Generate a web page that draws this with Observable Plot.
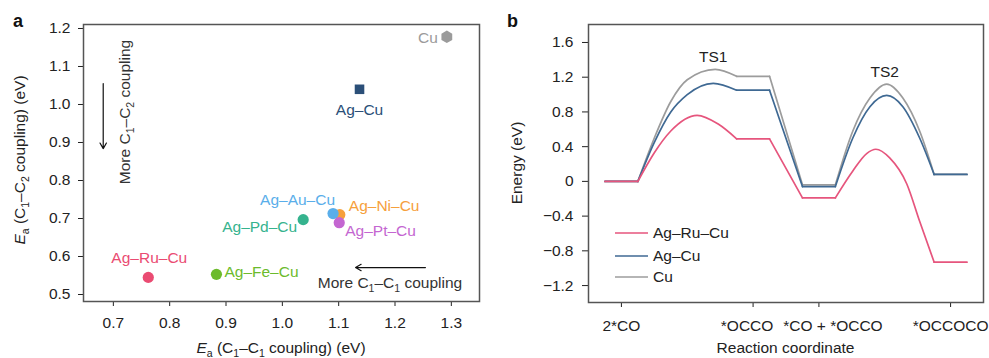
<!DOCTYPE html>
<html><head><meta charset="utf-8">
<script src="https://cdn.jsdelivr.net/npm/d3@7"></script>
<script src="https://cdn.jsdelivr.net/npm/@observablehq/plot@0.6"></script>
<style>
body{margin:0;background:#fff;}
#wrap{position:relative;width:989px;height:358px;font-family:"Liberation Sans",Arial,sans-serif;}
#a,#b{position:absolute;top:0;}
#a{left:0;} #b{left:500px;}
</style></head><body>
<div id="wrap"><div id="a"></div><div id="b"></div></div>
<script>
// ---------- Panel a data ----------
const alloys  = ["Cu", "Ag–Cu", "Ag–Ru–Cu", "Ag–Fe–Cu", "Ag–Pd–Cu", "Ag–Ni–Cu", "Ag–Au–Cu", "Ag–Pt–Cu"];
const eaC1C1  = [1.292, 1.137, 0.762, 0.883, 1.037, 1.102, 1.090, 1.101];
const eaC1C2  = [1.178, 1.040, 0.545, 0.553, 0.697, 0.710, 0.713, 0.689];
const xTicksA = [0.7, 0.8, 0.9, 1.0, 1.1, 1.2, 1.3];
const yTicksA = [0.5, 0.6, 0.7, 0.8, 0.9, 1.0, 1.1, 1.2];
// annotation arrows (data space)
const arrowC1C2 = {x: 0.682, y1: 1.055, y2: 0.884};
const arrowC1C1 = {y: 0.571, x1: 1.254, x2: 1.130};

// ---------- Panel b data ----------
const states     = ["2*CO", "*OCCO", "*CO + *OCCO", "*OCCOCO"];
const statePos   = [1, 5, 7, 11];
const energyTicks = [-1.2, -0.8, -0.4, 0, 0.4, 0.8, 1.2, 1.6];
const catalysts  = ["Ag–Ru–Cu", "Ag–Cu", "Cu"];
const ruRC = [0.5, 1.5, 2.0, 2.5, 3.30, 3.94, 4.5, 5.5, 6.5, 7.5, 8.03, 8.45, 8.73, 9.15, 9.67, 10.06, 10.5, 11.5];
const ruE  = [0, 0, 0.33, 0.58, 0.76, 0.66, 0.49, 0.49, -0.19, -0.19, 0.12, 0.32, 0.37, 0.27, -0.03, -0.46, -0.93, -0.93];
const agRC = [0.5, 1.5, 2.0, 2.5, 3.0, 3.79, 4.5, 5.5, 6.5, 7.5, 8.03, 8.55, 9.06, 9.55, 10.06, 10.5, 11.5];
const agE  = [0, 0, 0.45, 0.80, 1.00, 1.13, 1.05, 1.05, -0.06, -0.06, 0.50, 0.86, 0.99, 0.86, 0.50, 0.08, 0.08];
const cuRC = [0.5, 1.5, 2.0, 2.5, 3.0, 3.85, 4.5, 5.5, 6.5, 7.5, 8.03, 8.55, 9.06, 9.55, 10.06, 10.5, 11.5];
const cuE  = [0, 0, 0.50, 0.92, 1.17, 1.29, 1.21, 1.21, -0.04, -0.04, 0.58, 0.96, 1.12, 0.96, 0.58, 0.08, 0.08];
const tsLabels = ["TS1", "TS2"];
const tsRC = [3.85, 9.06];
const tsE  = [1.29, 1.12];

// ---------- styles ----------
const FONT = '"Liberation Sans", Arial, sans-serif';
const FS = 15.5;
const colorsA = ["#9b9b9b", "#2b4f78", "#ea4b72", "#6cbb2c", "#35b38e", "#f6a03c", "#5aaeea", "#c466d1"];
const symbolsA = ["hexagon", "square", "circle", "circle", "circle", "circle", "circle", "circle"];
const labelStyle = [
  {textAnchor: "end", dx: -9, dy: 1},
  {textAnchor: "middle", dx: 0, dy: 21},
  {textAnchor: "middle", dx: 1, dy: -19},
  {textAnchor: "start", dx: 8, dy: -2},
  {textAnchor: "end", dx: -6, dy: 7},
  {textAnchor: "start", dx: 9, dy: -9},
  {textAnchor: "end", dx: 2, dy: -14},
  {textAnchor: "start", dx: 6, dy: 8}
];
const lineColors = {"Ag–Ru–Cu": "#e6557d", "Ag–Cu": "#3f6993", "Cu": "#9c9c9c"};
const stateLabelShift = [0, -6, 14, 0];

// rich text helper (italic / subscript)
function rich(svg, x, y, segs, {anchor = "middle", rotate = 0, size = FS, fill = "#222", weight = "normal"} = {}) {
  const t = d3.select(svg).append("text")
    .attr("transform", `translate(${x},${y}) rotate(${rotate})`)
    .attr("text-anchor", anchor).attr("font-size", size).attr("font-family", FONT)
    .attr("fill", fill).attr("font-weight", weight);
  let shifted = false;
  const sh = size * 0.26;
  for (const [s, type] of segs) {
    const ts = t.append("tspan").text(s);
    if (type === "s") {
      ts.attr("font-size", size * 0.68);
      if (!shifted) { ts.attr("dy", sh); shifted = true; }
    } else {
      if (shifted) { ts.attr("dy", -sh); shifted = false; }
      if (type === "i") ts.attr("font-style", "italic");
    }
  }
  return t;
}

// ---------- Panel a ----------
const order = [0, 1, 2, 3, 4, 5, 6, 7];
const marksA = [Plot.frame({stroke: "#555", strokeWidth: 1.5})];
for (const i of order) {
  marksA.push(Plot.dot([i], {x: j => eaC1C1[j], y: j => eaC1C2[j], fill: colorsA[i], stroke: "none",
    symbol: symbolsA[i], r: symbolsA[i] === "circle" ? 5.6 : 5.4}));
}
for (const i of order) {
  marksA.push(Plot.text([i], {x: j => eaC1C1[j], y: j => eaC1C2[j], text: j => alloys[j], fill: colorsA[i],
    fontSize: FS, ...labelStyle[i]}));
}
marksA.push(Plot.arrow([arrowC1C2], {x: "x", y1: "y1", y2: "y2", stroke: "#111", strokeWidth: 1.2, headLength: 8}));
marksA.push(Plot.arrow([arrowC1C1], {y: "y", x1: "x1", x2: "x2", stroke: "#111", strokeWidth: 1.2, headLength: 8}));

const chartA = Plot.plot({
  width: 500, height: 358, marginLeft: 83, marginRight: 21, marginTop: 24, marginBottom: 57,
  style: {fontFamily: FONT, fontSize: FS + "px", color: "#222", background: "transparent", overflow: "visible"},
  x: {domain: [0.647, 1.35], ticks: xTicksA, tickFormat: d3.format(".1f"), tickSize: 5, tickPadding: 10, label: null},
  y: {domain: [0.4816, 1.2105], ticks: yTicksA, tickFormat: d3.format(".1f"), tickSize: 5, tickPadding: 8, label: null},
  marks: marksA
});
document.getElementById("a").appendChild(chartA);
{
  const sx = chartA.scale("x"), sy = chartA.scale("y");
  rich(chartA, 13, 27, [["a", ""]], {anchor: "start", size: 18, weight: "bold", fill: "#111"});
  rich(chartA, 281, 353, [["E", "i"], ["a", "s"], [" (C", ""], ["1", "s"], ["–C", ""], ["1", "s"], [" coupling) (eV)", ""]]);
  rich(chartA, 25, 160, [["E", "i"], ["a", "s"], [" (C", ""], ["1", "s"], ["–C", ""], ["2", "s"], [" coupling) (eV)", ""]], {rotate: -90});
  rich(chartA, sx.apply(0.721) + 5, sy.apply(0.979), [["More C", ""], ["1", "s"], ["–C", ""], ["2", "s"], [" coupling", ""]], {rotate: -90, fill: "#333"});
  rich(chartA, sx.apply(1.192), sy.apply(0.529) + 5, [["More C", ""], ["1", "s"], ["–C", ""], ["1", "s"], [" coupling", ""]], {fill: "#333"});
}

// ---------- Panel b ----------
function segments(rc, e, name) {
  const bounds = new Set(statePos.flatMap(p => [p - 0.5, p + 0.5]));
  const out = [];
  let seg = 0;
  for (let k = 0; k < rc.length; k++) {
    out.push({x: rc[k], y: e[k], seg, name});
    if (bounds.has(rc[k]) && k > 0 && k < rc.length - 1) { seg++; out.push({x: rc[k], y: e[k], seg, name}); }
  }
  return out;
}
const series = {"Cu": segments(cuRC, cuE, "Cu"), "Ag–Cu": segments(agRC, agE, "Ag–Cu"), "Ag–Ru–Cu": segments(ruRC, ruE, "Ag–Ru–Cu")};

const chartB = Plot.plot({
  width: 489, height: 358, marginLeft: 88, marginRight: 6, marginTop: 24, marginBottom: 56,
  style: {fontFamily: FONT, fontSize: FS + "px", color: "#222", background: "transparent", overflow: "visible"},
  x: {domain: [0, 12], ticks: statePos, tickFormat: d => states[statePos.indexOf(d)], tickSize: 5, tickPadding: 12, label: null},
  y: {domain: [-1.395, 1.807], ticks: energyTicks, tickFormat: d => d === 0 ? "0" : d3.format(".1f")(d), tickSize: 6, tickPadding: 9, label: null},
  marks: [
    Plot.frame({stroke: "#555", strokeWidth: 1.5}),
    ...["Cu", "Ag–Cu", "Ag–Ru–Cu"].map(n => Plot.line(series[n], {x: "x", y: "y", z: "seg", stroke: lineColors[n], strokeWidth: 1.7, curve: "monotone-x"})),
    Plot.text(tsLabels, {x: (d, i) => tsRC[i], y: (d, i) => tsE[i], text: d => d, dy: -12, dx: -2, fontSize: FS, fill: "#222"})
  ]
});
document.getElementById("b").appendChild(chartB);
{
  d3.select(chartB).selectAll('[aria-label="x-axis tick label"] text')
    .attr("dx", (d, i) => stateLabelShift[i] || 0);
  rich(chartB, 7, 27, [["b", ""]], {anchor: "start", size: 18, weight: "bold", fill: "#111"});
  rich(chartB, 22, 163, [["Energy (eV)", ""]], {rotate: -90});
  rich(chartB, 285.5, 353, [["Reaction coordinate", ""]]);
  const g = d3.select(chartB).append("g");
  const ly = [233, 256, 277];
  catalysts.forEach((c, i) => {
    g.append("line").attr("x1", 115).attr("x2", 148).attr("y1", ly[i]).attr("y2", ly[i])
      .attr("stroke", lineColors[c]).attr("stroke-width", 1.7);
    g.append("text").attr("x", 153).attr("y", ly[i]).attr("dy", "0.35em").attr("font-size", FS)
      .attr("text-anchor", "start").attr("font-family", FONT).attr("fill", "#222").text(c);
  });
}
</script>
</body></html>
